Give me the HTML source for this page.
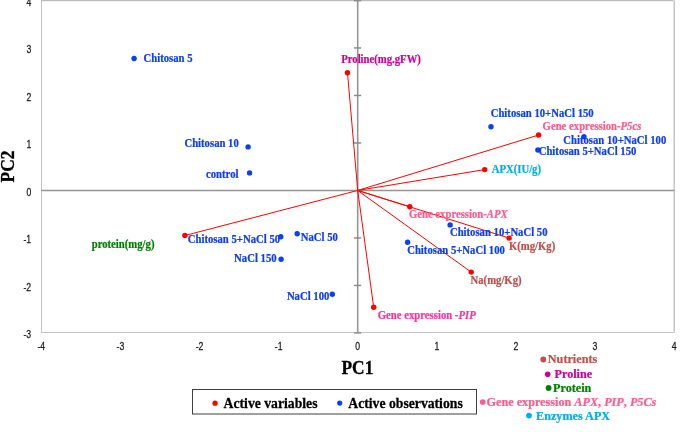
<!DOCTYPE html>
<html><head><meta charset="utf-8">
<style>
html,body{margin:0;padding:0;background:#fff;width:685px;height:432px;overflow:hidden}
svg{display:block;will-change:transform}
.ax{font-family:"Liberation Sans",sans-serif;font-size:10.2px;fill:#1a1a1a;stroke:#1a1a1a;stroke-width:0.25px}
.lb{font-family:"Liberation Serif",serif;font-weight:bold;font-size:10.7px;stroke-width:0.22px}
.lg{font-family:"Liberation Serif",serif;font-weight:bold;font-size:13.7px;fill:#000;stroke:#000;stroke-width:0.25px}
.rl{font-family:"Liberation Serif",serif;font-weight:bold;font-size:12.2px;stroke-width:0.22px}
.pc{font-family:"Liberation Serif",serif;font-weight:bold;font-size:17.4px;fill:#000;stroke:#000;stroke-width:0.3px}
</style></head>
<body>
<svg width="685" height="432" viewBox="0 0 685 432">

<rect x="41" y="0" width="634" height="1" fill="#bcbcbc"/>
<rect x="42" y="1" width="631" height="1" fill="#f0f0f0"/>
<rect x="41" y="0" width="1" height="333" fill="#c2c2c2"/>
<rect x="41" y="332" width="634" height="1" fill="#c2c2c2"/>
<rect x="673" y="0" width="1" height="333" fill="#e2e2e2"/>
<rect x="674" y="0" width="1" height="333" fill="#c6c6c6"/>
<line x1="357.7" y1="0" x2="357.7" y2="332.5" stroke="#959595" stroke-width="1.6"/>
<line x1="41.5" y1="190.45" x2="674.5" y2="190.45" stroke="#959595" stroke-width="1.6"/>
<g stroke="#8c8c8c" stroke-width="1.5">
<line x1="354" y1="0.60" x2="361.2" y2="0.60"/>
<line x1="354" y1="47.95" x2="361.2" y2="47.95"/>
<line x1="354" y1="95.45" x2="361.2" y2="95.45"/>
<line x1="354" y1="142.95" x2="361.2" y2="142.95"/>
<line x1="354" y1="237.95" x2="361.2" y2="237.95"/>
<line x1="354" y1="285.45" x2="361.2" y2="285.45"/>
<line x1="354" y1="332.90" x2="361.2" y2="332.90"/>
</g>
<text class="ax" text-anchor="end" transform="translate(31.2,5.85) scale(0.85,1.02)">4</text>
<text class="ax" text-anchor="end" transform="translate(31.2,53.35) scale(0.85,1.02)">3</text>
<text class="ax" text-anchor="end" transform="translate(31.2,100.85) scale(0.85,1.02)">2</text>
<text class="ax" text-anchor="end" transform="translate(31.2,148.35) scale(0.85,1.02)">1</text>
<text class="ax" text-anchor="end" transform="translate(31.2,195.85) scale(0.85,1.02)">0</text>
<text class="ax" text-anchor="end" transform="translate(31.2,243.35) scale(0.85,1.02)">-1</text>
<text class="ax" text-anchor="end" transform="translate(31.2,290.85) scale(0.85,1.02)">-2</text>
<text class="ax" text-anchor="end" transform="translate(31.2,338.35) scale(0.85,1.02)">-3</text>
<text class="ax" text-anchor="middle" transform="translate(41.3,349.9) scale(0.85,1.02)">-4</text>
<text class="ax" text-anchor="middle" transform="translate(120.4,349.9) scale(0.85,1.02)">-3</text>
<text class="ax" text-anchor="middle" transform="translate(199.5,349.9) scale(0.85,1.02)">-2</text>
<text class="ax" text-anchor="middle" transform="translate(278.6,349.9) scale(0.85,1.02)">-1</text>
<text class="ax" text-anchor="middle" transform="translate(357.7,349.9) scale(0.85,1.02)">0</text>
<text class="ax" text-anchor="middle" transform="translate(436.8,349.9) scale(0.85,1.02)">1</text>
<text class="ax" text-anchor="middle" transform="translate(515.9,349.9) scale(0.85,1.02)">2</text>
<text class="ax" text-anchor="middle" transform="translate(595.0,349.9) scale(0.85,1.02)">3</text>
<text class="ax" text-anchor="middle" transform="translate(674.1,349.9) scale(0.85,1.02)">4</text>
<text class="pc" text-anchor="middle" transform="translate(357.4,373.5) scale(1.0,1.07)">PC1</text>
<text class="pc" text-anchor="middle" transform="translate(14.2,166.5) rotate(-90) scale(1,1.07)">PC2</text>
<g stroke="#ff0000" stroke-width="1.0" fill="none">
<line x1="357.7" y1="190.45" x2="347.5" y2="72.7"/>
<line x1="357.7" y1="190.45" x2="184.9" y2="235.5"/>
<line x1="357.7" y1="190.45" x2="538.6" y2="135.0"/>
<line x1="357.7" y1="190.45" x2="484.7" y2="169.6"/>
<line x1="357.7" y1="190.45" x2="409.8" y2="206.8"/>
<line x1="357.7" y1="190.45" x2="509.1" y2="238.1"/>
<line x1="357.7" y1="190.45" x2="471.2" y2="272.1"/>
<line x1="357.7" y1="190.45" x2="373.7" y2="307.2"/>
</g>
<g fill="#ff0000">
<circle cx="347.5" cy="72.7" r="2.7"/>
<circle cx="184.9" cy="235.5" r="2.7"/>
<circle cx="538.6" cy="135.0" r="2.7"/>
<circle cx="484.7" cy="169.6" r="2.7"/>
<circle cx="409.8" cy="206.8" r="2.7"/>
<circle cx="509.1" cy="238.1" r="2.7"/>
<circle cx="471.2" cy="272.1" r="2.7"/>
<circle cx="373.7" cy="307.2" r="2.7"/>
</g>
<g fill="#0d3ef0">
<circle cx="134.1" cy="58.5" r="2.7"/>
<circle cx="248.1" cy="146.9" r="2.7"/>
<circle cx="249.6" cy="172.9" r="2.7"/>
<circle cx="280.8" cy="236.8" r="2.7"/>
<circle cx="297.2" cy="233.7" r="2.7"/>
<circle cx="281.1" cy="259.2" r="2.7"/>
<circle cx="332.3" cy="294.3" r="2.7"/>
<circle cx="491.0" cy="126.7" r="2.7"/>
<circle cx="584.0" cy="136.8" r="2.7"/>
<circle cx="537.9" cy="150.0" r="2.7"/>
<circle cx="450.1" cy="224.9" r="2.7"/>
<circle cx="407.6" cy="242.3" r="2.7"/>
</g>
<text class="lb" fill="#0d3ef0" stroke="#0d3ef0" transform="translate(143.5,62.1) scale(1.0,1.07)">Chitosan 5</text>
<text class="lb" fill="#0d3ef0" stroke="#0d3ef0" text-anchor="end" transform="translate(238.8,147.4) scale(1.0,1.07)">Chitosan 10</text>
<text class="lb" fill="#0d3ef0" stroke="#0d3ef0" text-anchor="end" transform="translate(238.5,177.8) scale(1.0,1.07)">control</text>
<text class="lb" fill="#0d3ef0" stroke="#0d3ef0" transform="translate(187.8,242.5) scale(1.0,1.07)">Chitosan 5+NaCl 50</text>
<text class="lb" fill="#0d3ef0" stroke="#0d3ef0" transform="translate(300.8,240.8) scale(1.0,1.07)">NaCl 50</text>
<text class="lb" fill="#0d3ef0" stroke="#0d3ef0" text-anchor="end" transform="translate(276.6,261.9) scale(1.0,1.07)">NaCl 150</text>
<text class="lb" fill="#0d3ef0" stroke="#0d3ef0" text-anchor="end" transform="translate(329.4,299.9) scale(1.0,1.07)">NaCl 100</text>
<text class="lb" fill="#0d3ef0" stroke="#0d3ef0" transform="translate(490.7,116.6) scale(1.0,1.07)">Chitosan 10+NaCl 150</text>
<text class="lb" fill="#0d3ef0" stroke="#0d3ef0" transform="translate(563.3,143.9) scale(1.0,1.07)">Chitosan 10+NaCl 100</text>
<text class="lb" fill="#0d3ef0" stroke="#0d3ef0" transform="translate(538.7,155.0) scale(1.0,1.07)">Chitosan 5+NaCl 150</text>
<text class="lb" fill="#0d3ef0" stroke="#0d3ef0" transform="translate(449.9,235.9) scale(1.0,1.07)">Chitosan 10+NaCl 50</text>
<text class="lb" fill="#0d3ef0" stroke="#0d3ef0" transform="translate(407.2,253.7) scale(1.0,1.07)">Chitosan 5+NaCl 100</text>
<text class="lb" fill="#cc0099" stroke="#cc0099" transform="translate(341.2,62.8) scale(1.0,1.07)">Proline(mg.gFW)</text>
<text class="lb" fill="#008000" stroke="#008000" transform="translate(91.7,247.5) scale(1.0,1.07)">protein(mg/g)</text>
<text class="lb" fill="#ff5a8e" stroke="#ff5a8e" transform="translate(542.6,130.4) scale(1.0,1.07)">Gene expression-<tspan font-style="italic">P5cs</tspan></text>
<text class="lb" fill="#00adee" stroke="#00adee" transform="translate(491.7,173.1) scale(1.0,1.07)">APX(IU/g)</text>
<text class="lb" fill="#ff5a8e" stroke="#ff5a8e" transform="translate(408.9,218.0) scale(1.0,1.07)">Gene expression-<tspan font-style="italic">APX</tspan></text>
<text class="lb" fill="#c0504d" stroke="#c0504d" transform="translate(508.9,249.7) scale(1.0,1.07)">K(mg/Kg)</text>
<text class="lb" fill="#c0504d" stroke="#c0504d" transform="translate(470.5,284.1) scale(1.0,1.07)">Na(mg/Kg)</text>
<text class="lb" fill="#ff3399" stroke="#ff3399" transform="translate(377.8,318.9) scale(1.0,1.07)">Gene expression -<tspan font-style="italic">PIP</tspan></text>
<rect x="192.5" y="389.5" width="284" height="24.5" fill="none" stroke="#404040" stroke-width="1"/>
<circle cx="215.05" cy="403.15" r="2.6" fill="#ff0000"/>
<text class="lg" transform="translate(223.6,407.8) scale(1.0,1.07)">Active variables</text>
<circle cx="339.7" cy="403.1" r="2.6" fill="#0d3ef0"/>
<text class="lg" transform="translate(348.3,407.8) scale(1.0,1.07)">Active observations</text>
<circle cx="543.3" cy="359.5" r="2.9" fill="#c0504d"/>
<text class="rl" fill="#c0504d" stroke="#c0504d" transform="translate(547.8,363.4) scale(1.0,1.07)">Nutrients</text>
<circle cx="547.7" cy="374.2" r="2.8" fill="#cc0099"/>
<text class="rl" fill="#cc0099" stroke="#cc0099" transform="translate(554.5,378.0) scale(1.0,1.07)">Proline</text>
<circle cx="548.6" cy="388.0" r="2.9" fill="#008000"/>
<text class="rl" fill="#008000" stroke="#008000" transform="translate(553.0,391.5) scale(1.0,1.07)">Protein</text>
<circle cx="482.7" cy="402.0" r="2.85" fill="#ff5a8e"/>
<text class="rl" fill="#ff5a8e" stroke="#ff5a8e" transform="translate(486.5,406.0) scale(1.0,1.07)">Gene expression <tspan font-style="italic">APX</tspan>, <tspan font-style="italic">PIP</tspan>, <tspan font-style="italic">P5Cs</tspan></text>
<circle cx="529.0" cy="415.6" r="2.85" fill="#00adee"/>
<text class="rl" fill="#00adee" stroke="#00adee" transform="translate(536.0,419.9) scale(1.0,1.07)">Enzymes APX</text>
</svg>
</body></html>
